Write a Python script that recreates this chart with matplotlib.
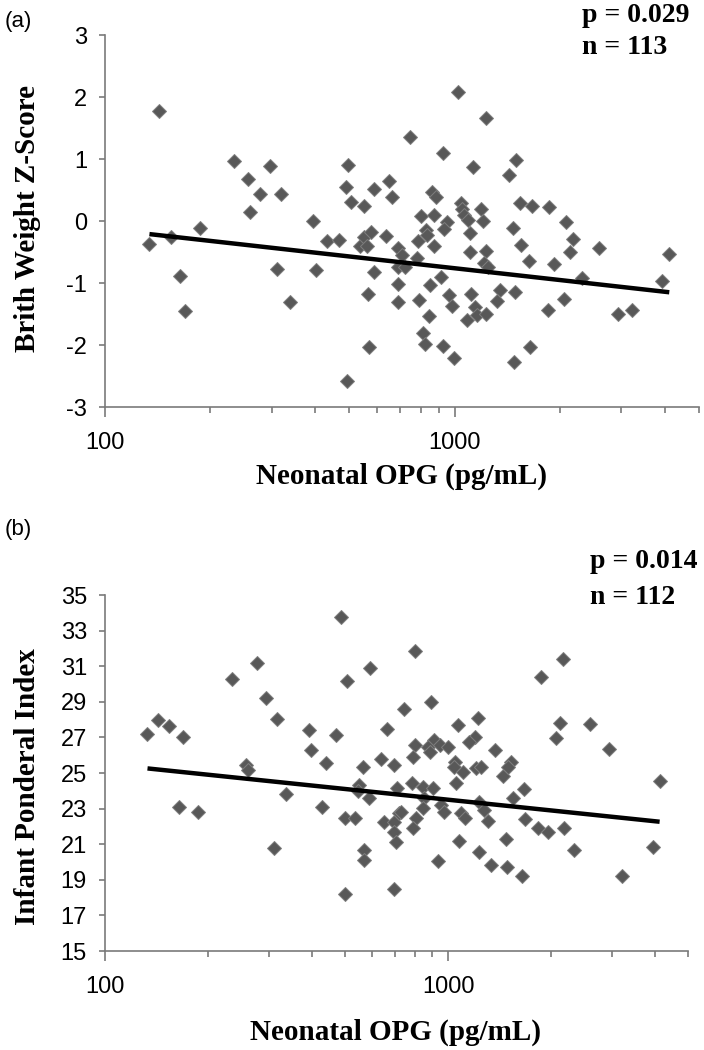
import numpy as np
import matplotlib
matplotlib.use("Agg")
import matplotlib.pyplot as plt
from matplotlib.ticker import FixedLocator, LogLocator, NullFormatter

# ---- data ----
# panel (a): neonatal OPG (pg/mL) vs birth weight z-score
opg_a = [143, 134, 154, 164, 169, 187, 234, 257, 296, 260, 278, 318, 311, 338,
         394, 401, 431, 467, 488, 496, 505, 493, 551, 538, 551, 575, 563, 566,
         569, 588, 588, 649, 661, 638, 690, 690, 690, 690,
         1022, 1233, 743, 926, 1127, 1499, 1435, 863, 883, 1040,
         1047, 800, 873, 1186, 1535, 1666, 1859, 2089, 1061, 1091,
         1208, 949, 932, 826, 1106, 1472, 2176, 836, 785, 873,
         708, 782, 719, 1106, 1227, 1545, 2143, 2583, 1630, 1922,
         1213, 1245, 912, 853, 791, 964, 980, 1112, 1143, 1161,
         1082, 1233, 1346, 1324, 1493, 845, 811, 822, 926, 995,
         1648, 1480, 1849, 2052, 2317, 2930, 3221, 4111, 3920]
z_a = [1.78, -0.37, -0.25, -0.89, -1.45, -0.11, 0.97, 0.68, 0.89, 0.15, 0.43, 0.43, -0.78, -1.31,
       0.00, -0.79, -0.33, -0.31, 0.55, 0.90, 0.31, -2.58, 0.25, -0.41, -0.25, -0.18, -0.41, -1.18,
       -2.04, 0.52, -0.82, 0.65, 0.38, -0.24, -0.43, -0.74, -1.02, -1.30,
       2.08, 1.66, 1.36, 1.10, 0.87, 0.98, 0.74, 0.46, 0.39, 0.29,
       0.20, 0.08, 0.10, 0.19, 0.29, 0.25, 0.22, -0.01, 0.10, 0.02,
       0.00, -0.01, -0.13, -0.15, -0.19, -0.11, -0.29, -0.23, -0.32, -0.40,
       -0.55, -0.60, -0.74, -0.50, -0.48, -0.39, -0.50, -0.44, -0.65, -0.69,
       -0.68, -0.74, -0.90, -1.04, -1.27, -1.19, -1.37, -1.17, -1.38, -1.52,
       -1.59, -1.50, -1.11, -1.29, -1.14, -1.53, -1.81, -1.99, -2.02, -2.21,
       -2.04, -2.27, -1.44, -1.26, -0.92, -1.50, -1.44, -0.53, -0.97]
fit_a = (1.131, -0.631)   # intercept, slope vs log10(OPG)

# panel (b): neonatal OPG vs infant ponderal index
opg_b = [133, 143, 154, 169, 164, 187, 234, 277, 294, 317, 258, 261, 337, 310,
         394, 399, 441, 428, 471, 487, 506, 499, 502, 536, 549, 564, 545, 587,
         570, 570, 593, 638, 663, 697, 650, 695, 697, 705, 695, 710, 718,
         798, 2158, 1867, 891, 743, 1225, 1066, 2112, 2584, 2067,
         1194, 1154, 912, 798, 874, 944, 999, 883, 1365, 2938,
         789, 1047, 1528, 1043, 1208, 1248, 1104, 1442, 1493, 1055,
         783, 844, 902, 1667, 1541, 1234, 853, 955, 844, 729,
         1092, 1276, 975, 1117, 805, 1305, 1680, 1825, 1953, 2183,
         789, 1079, 1475, 1234, 2323, 3954, 4133, 933, 1334, 1485,
         1644, 3213]
pi_b = [27.17, 27.97, 27.65, 27.04, 23.07, 22.82, 30.28, 31.20, 29.19, 28.01, 25.44, 25.16, 23.81, 20.76,
        27.41, 26.29, 25.54, 23.10, 27.13, 33.75, 30.18, 18.23, 22.45, 22.50, 24.32, 25.31, 24.00, 23.60,
        20.70, 20.14, 30.91, 25.76, 27.50, 25.44, 22.22, 22.26, 21.70, 21.13, 18.51, 24.13, 22.78,
        31.87, 31.40, 30.37, 29.00, 28.57, 28.07, 27.69, 27.82, 27.73, 26.94,
        27.04, 26.75, 26.85, 26.57, 26.47, 26.57, 26.47, 26.19, 26.29, 26.33,
        25.88, 25.63, 25.63, 25.35, 25.26, 25.35, 25.07, 24.83, 25.35, 24.45,
        24.45, 24.23, 24.13, 24.08, 23.60, 23.38, 23.57, 23.20, 23.01, 22.82,
        22.76, 22.91, 22.82, 22.45, 22.45, 22.31, 22.41, 21.92, 21.66, 21.89,
        21.89, 21.19, 21.28, 20.57, 20.67, 20.82, 24.54, 20.05, 19.82, 19.73,
        19.22, 19.22]
fit_b = (29.52, -2.007)

W, H = 704, 1050
fig = plt.figure(figsize=(W / 100, H / 100), dpi=100)

SERIF = "Liberation Serif"
SANS = "Liberation Sans"
AXCOL = "#7a7a7a"


def px_axes(l, t, r, b):
    return fig.add_axes([l / W, 1 - b / H, (r - l) / W, (b - t) / H])


def draw_panel(ax, x, y, fit, ylim, yticks):
    ax.plot(x, y, linestyle="none", marker="D", ms=7.3, mfc="#585858",
            mec="#7e7e7e", mew=0.7, zorder=2)
    xs = np.array([min(x), max(x)], dtype=float)
    ax.plot(xs, fit[0] + fit[1] * np.log10(xs), color="black", lw=3.2,
            solid_capstyle="butt", zorder=3)
    ax.set_xscale("log")
    ax.set_xlim(100, 5000)
    ax.set_ylim(*ylim)
    ax.xaxis.set_major_locator(FixedLocator([100, 1000]))
    ax.set_xticklabels(["100", "1000"])
    ax.xaxis.set_minor_locator(LogLocator(base=10, subs=np.arange(2, 10)))
    ax.xaxis.set_minor_formatter(NullFormatter())
    ax.set_yticks(yticks)
    ax.set_yticklabels([str(v) for v in yticks])
    for s in ["top", "right"]:
        ax.spines[s].set_visible(False)
    for s in ["left", "bottom"]:
        ax.spines[s].set_color(AXCOL)
        ax.spines[s].set_linewidth(1.2)
    ax.tick_params(axis="x", which="major", direction="out", length=7,
                   width=1.2, color=AXCOL, pad=11)
    ax.tick_params(axis="x", which="minor", direction="out", length=4,
                   width=1.2, color=AXCOL)
    ax.tick_params(axis="y", direction="out", length=4, width=1.2,
                   color=AXCOL, pad=9)
    for lab in ax.get_xticklabels() + ax.get_yticklabels():
        lab.set_fontfamily(SANS)
        lab.set_fontsize(17)


axa = px_axes(105, 35, 699, 407)
draw_panel(axa, opg_a, z_a, fit_a, (-3, 3), [-3, -2, -1, 0, 1, 2, 3])

axb = px_axes(105, 595, 688, 951)
draw_panel(axb, opg_b, pi_b, fit_b, (15, 35), list(range(15, 36, 2)))


def ftxt(x, y, s, **kw):
    fig.text(x / W, 1 - y / H, s, **kw)


# panel (a) texts
ftxt(5, 22, "(a)", family=SANS, fontsize=16, va="center", ha="left")
ftxt(582, 15, "p = 0.029", family=SERIF, fontsize=20, weight="bold", va="center")
ftxt(582, 48, "n = 113", family=SERIF, fontsize=20, weight="bold", va="center")
ftxt(28, 218, "Brith Weight Z-Score", family=SERIF, fontsize=21, weight="bold",
     rotation=90, va="center", ha="center")
ftxt(402, 476, "Neonatal OPG (pg/mL)", family=SERIF, fontsize=21, weight="bold",
     va="center", ha="center")

# panel (b) texts
ftxt(5, 530, "(b)", family=SANS, fontsize=16, va="center", ha="left")
ftxt(590, 562, "p = 0.014", family=SERIF, fontsize=20, weight="bold", va="center")
ftxt(590, 597, "n = 112", family=SERIF, fontsize=20, weight="bold", va="center")
ftxt(28, 787, "Infant Ponderal Index", family=SERIF, fontsize=21, weight="bold",
     rotation=90, va="center", ha="center")
ftxt(396, 1032, "Neonatal OPG (pg/mL)", family=SERIF, fontsize=21, weight="bold",
     va="center", ha="center")

fig.savefig("out.png", dpi=100, facecolor="white")
